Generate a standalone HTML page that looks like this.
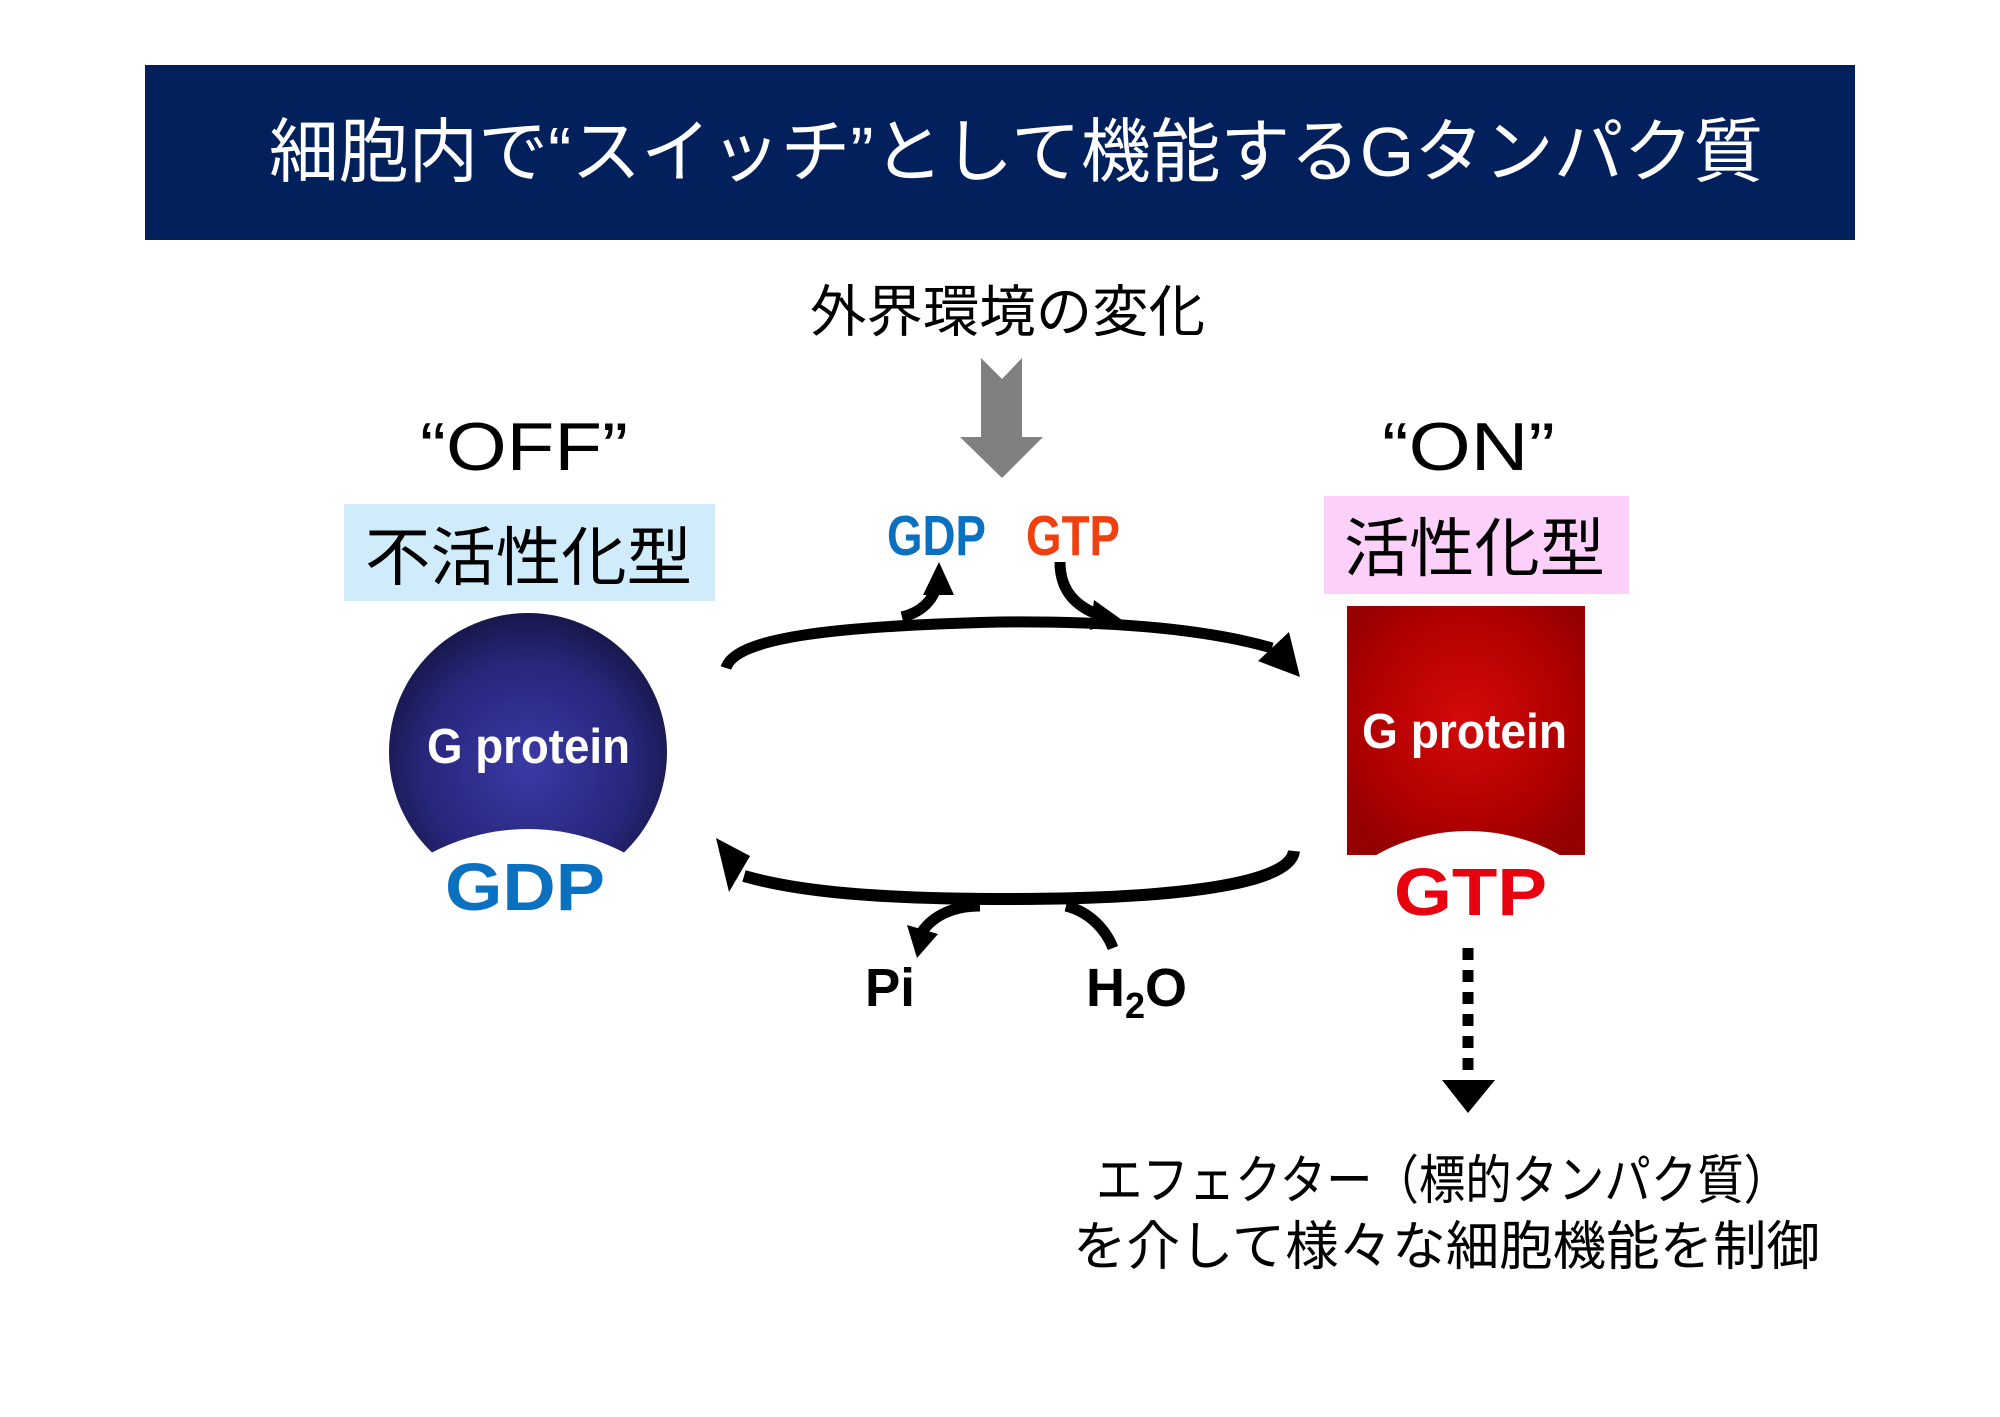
<!DOCTYPE html>
<html><head><meta charset="utf-8"><style>
html,body{margin:0;padding:0;background:#fff;}
svg{display:block;}
.jp{font-family:"Liberation Sans","Noto Sans CJK JP",sans-serif;}
.b{font-family:"Liberation Sans",sans-serif;font-weight:bold;}
</style></head><body>
<svg width="2000" height="1417" viewBox="0 0 2000 1417" xmlns="http://www.w3.org/2000/svg">
<defs>
<radialGradient id="bg" cx="0.5" cy="0.55" r="0.55">
<stop offset="0" stop-color="#3a3aa6"/><stop offset="0.7" stop-color="#26267a"/><stop offset="1" stop-color="#17174a"/>
</radialGradient>
<radialGradient id="rg" cx="0.5" cy="0.45" r="0.6">
<stop offset="0" stop-color="#d40a0a"/><stop offset="0.7" stop-color="#b00000"/><stop offset="1" stop-color="#960000"/>
</radialGradient>
</defs>
<rect x="145" y="65" width="1710" height="175" fill="#02205b"/>
<text class="jp" x="269" y="152" dominant-baseline="central" font-size="70" fill="#fff" textLength="1494" lengthAdjust="spacingAndGlyphs">細胞内で“スイッチ”として機能するGタンパク質</text>
<text class="jp" x="810" y="312" dominant-baseline="central" font-size="56" fill="#000" textLength="395" lengthAdjust="spacingAndGlyphs">外界環境の変化</text>
<polygon points="981,358 1002,379 1022,358 1022,437 1043,437 1002,478 960,437 981,437" fill="#808080"/>
<text x="420" y="470" font-family="Liberation Sans,sans-serif" font-size="68" textLength="208" lengthAdjust="spacingAndGlyphs">“OFF”</text>
<text x="1382" y="470" font-family="Liberation Sans,sans-serif" font-size="68" textLength="173" lengthAdjust="spacingAndGlyphs">“ON”</text>
<rect x="344" y="504" width="371" height="97" fill="#d0ecfb"/>
<text class="jp" x="365" y="558" dominant-baseline="central" font-size="64" textLength="327" lengthAdjust="spacingAndGlyphs">不活性化型</text>
<rect x="1324" y="496" width="305" height="98" fill="#fcd0f8"/>
<text class="jp" x="1344" y="549" dominant-baseline="central" font-size="64" textLength="261" lengthAdjust="spacingAndGlyphs">活性化型</text>
<circle cx="528" cy="752" r="139" fill="url(#bg)"/>
<circle cx="528" cy="1037" r="208" fill="#fff"/>
<text class="b" x="427" y="763" font-size="49" fill="#fff" textLength="203" lengthAdjust="spacingAndGlyphs">G protein</text>
<text class="b" x="445" y="910" font-size="67" fill="#0a70c0" textLength="160" lengthAdjust="spacingAndGlyphs">GDP</text>
<rect x="1347" y="606" width="238" height="249" fill="url(#rg)"/>
<circle cx="1468" cy="1019" r="188" fill="#fff"/>
<text class="b" x="1362" y="748" font-size="49" fill="#fff" textLength="205" lengthAdjust="spacingAndGlyphs">G protein</text>
<text class="b" x="1394" y="915" font-size="67" fill="#e8000f" textLength="153" lengthAdjust="spacingAndGlyphs">GTP</text>
<text class="b" x="887" y="555" font-size="57" fill="#0a70c0" textLength="99" lengthAdjust="spacingAndGlyphs">GDP</text>
<text class="b" x="1026" y="555" font-size="57" fill="#f04010" textLength="94" lengthAdjust="spacingAndGlyphs">GTP</text>
<g fill="none" stroke="#000" stroke-width="11">
<path d="M726,668 C735,638 830,626 1000,622 C1120,621 1210,630 1272,648"/>
<path d="M902,617 C922,612 933,600 937,585"/>
<path d="M1060,562 C1060,590 1075,607 1102,616"/>
<path d="M1294,851 C1290,888 1150,899 1010,899 C880,899 800,892 744,876" stroke-width="12"/>
<path d="M980,906 C950,906 930,918 920,935"/>
<path d="M1066,906 C1090,912 1106,930 1113,948"/>
</g>
<polygon points="1300,677 1289,632 1258,661" fill="#000"/>
<polygon points="939,562 923,595 954,595" fill="#000"/>
<polygon points="1122,620 1094,600 1090,630" fill="#000"/>
<polygon points="716,838 729,892 750,856" fill="#000"/>
<polygon points="917,958 907,925 938,934" fill="#000"/>
<text class="b" x="865" y="1006" font-size="54" textLength="50" lengthAdjust="spacingAndGlyphs">Pi</text>
<text class="b" x="1086" y="1006" font-size="54">H<tspan font-size="36" dy="12">2</tspan><tspan dy="-12">O</tspan></text>
<line x1="1468" y1="948" x2="1468" y2="1080" stroke="#000" stroke-width="11" stroke-dasharray="12,10"/>
<polygon points="1442,1080 1495,1080 1468,1113" fill="#000"/>
<text class="jp" x="1096" y="1181" dominant-baseline="central" font-size="53" textLength="694" lengthAdjust="spacingAndGlyphs">エフェクター（標的タンパク質）</text>
<text class="jp" x="1073" y="1247" dominant-baseline="central" font-size="53" textLength="747" lengthAdjust="spacingAndGlyphs">を介して様々な細胞機能を制御</text>
</svg>
</body></html>
